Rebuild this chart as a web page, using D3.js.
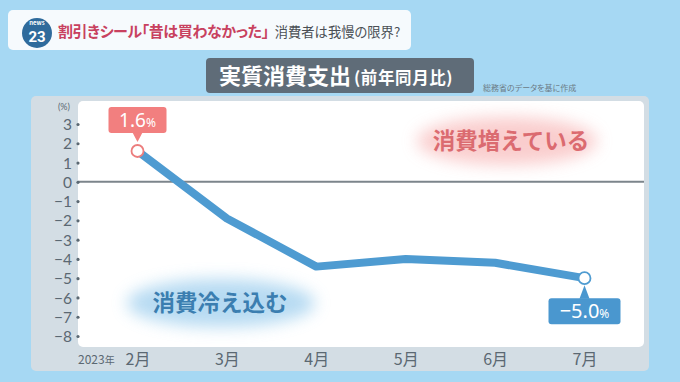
<!DOCTYPE html>
<html><head><meta charset="utf-8">
<script src="https://cdn.jsdelivr.net/npm/d3@7"></script>
<style>
html,body{margin:0;padding:0;background:#a6d8f3;}
svg{display:block;font-family:"Noto Sans CJK JP","Noto Sans",sans-serif;}
.palt{font-feature-settings:"palt";}
</style></head>
<body>
<svg id="c" width="680" height="382"></svg>
<script>
const months = ["2月","3月","4月","5月","6月","7月"];
const values = [1.6, -1.9, -4.4, -4.0, -4.2, -5.0];
const yTicks = [3,2,1,0,-1,-2,-3,-4,-5,-6,-7,-8];
const headline = "割引きシール「昔は買わなかった」";
const subhead = "消費者は我慢の限界?";
const title = "実質消費支出";
const titleSub = "(前年同月比)";
const source = "総務省のデータを基に作成";
const upLabel = "消費増えている";
const downLabel = "消費冷え込む";

const svg = d3.select("#c");
const defs = svg.append("defs");
const blur = defs.append("filter").attr("id","blur").attr("x","-50%").attr("y","-50%").attr("width","200%").attr("height","200%");
blur.append("feGaussianBlur").attr("stdDeviation",8);

// background
svg.append("rect").attr("width",680).attr("height",382).attr("fill","#a6d8f3");

// header
svg.append("rect").attr("x",8).attr("y",10).attr("width",403).attr("height",40).attr("rx",5).attr("fill","#f6fafd");
svg.append("circle").attr("cx",37).attr("cy",33).attr("r",15).attr("fill","#2f6b9c");
svg.append("text").attr("x",37).attr("y",25).attr("text-anchor","middle").attr("font-size",6).attr("font-weight","bold").attr("fill","#fff").text("news");
svg.append("text").attr("x",37).attr("y",42).attr("text-anchor","middle").attr("font-size",15).attr("font-weight","bold").attr("font-family","Roboto,sans-serif").attr("fill","#fff").text("23");
const ht = svg.append("text").attr("class","palt").attr("x",58).attr("y",37);
ht.append("tspan").attr("font-size",15).attr("letter-spacing",-0.4).attr("font-weight","bold").attr("fill","#c8415f").text(headline);
ht.append("tspan").attr("dx",6).attr("font-size",13.3).attr("fill","#4a4f55").text(subhead);

// title box
svg.append("rect").attr("x",206).attr("y",58).attr("width",268).attr("height",35).attr("rx",4).attr("fill","#5f6c78");
const tt = svg.append("text").attr("x",219).attr("y",84).attr("fill","#fff").attr("font-weight","bold");
tt.append("tspan").attr("font-size",22).text(title);
tt.append("tspan").attr("font-size",16.5).attr("letter-spacing",0.6).attr("dx",3).text(titleSub);
svg.append("text").attr("class","palt").attr("x",483).attr("y",91).attr("font-size",8).attr("fill","#6c7b86").text(source);

// panel
svg.append("rect").attr("x",31).attr("y",96).attr("width",618).attr("height",275).attr("rx",5).attr("fill","#d3dde4");
svg.append("rect").attr("x",78).attr("y",101).attr("width",566).attr("height",246).attr("rx",5).attr("fill","#ffffff");

const x = d3.scalePoint().domain(months).range([137.5,584.5]);
const y = d3.scaleLinear().domain([-8,3]).range([336,124]);

// annotation clouds
const up = svg.append("g");
up.append("ellipse").attr("cx",507).attr("cy",141).attr("rx",90).attr("ry",24).attr("fill","#f8b9b9").attr("opacity",0.7).attr("filter","url(#blur)");
up.append("text").attr("x",511).attr("y",149).attr("text-anchor","middle").attr("font-size",22.5).attr("font-weight","bold").attr("fill","#db6b70").text(upLabel);
const dn = svg.append("g");
dn.append("ellipse").attr("cx",221).attr("cy",303).attr("rx",94).attr("ry",24).attr("fill","#a5d2ef").attr("opacity",0.8).attr("filter","url(#blur)");
dn.append("text").attr("x",220).attr("y",311).attr("text-anchor","middle").attr("font-size",22.5).attr("font-weight","bold").attr("fill","#3b7eb0").text(downLabel);

// zero line
svg.append("line").attr("x1",78).attr("x2",644).attr("y1",y(0)).attr("y2",y(0)).attr("stroke","#7c858b").attr("stroke-width",2);

// y axis
const yAxis = d3.axisLeft(y).tickValues(yTicks).tickSize(0).tickPadding(8)
  .tickFormat(d => d < 0 ? "\u2212" + Math.abs(d) : String(d));
const ya = svg.append("g").attr("transform","translate(78,0)").call(yAxis);
ya.select(".domain").remove();
ya.selectAll("text").attr("font-size",15.5).attr("fill","#5b6872").attr("font-family","Lato,'Noto Sans',sans-serif").attr("dy","0.36em").attr("x",-6);
ya.selectAll(".tick").append("circle").attr("r",1.6).attr("fill","#5b6872");
svg.append("text").attr("x",70).attr("y",110).attr("text-anchor","end").attr("font-size",9).attr("fill","#5b6872").attr("font-family","Lato,sans-serif").text("(%)");

// x axis
const xAxis = d3.axisBottom(x).tickSize(0).tickPadding(0);
const xa = svg.append("g").attr("transform","translate(0,365)").call(xAxis);
xa.select(".domain").remove();
xa.selectAll("text").attr("font-size",16).attr("fill","#5b6872").attr("dy",0).attr("font-family","'Noto Sans CJK JP',sans-serif");
svg.append("text").attr("x",78).attr("y",364).attr("font-size",12).attr("fill","#5b6872").attr("font-family","'Noto Sans CJK JP',sans-serif")
  .call(t => { t.append("tspan").text("2023"); t.append("tspan").attr("font-size",10).text("年"); });

// line
const line = d3.line().x((d,i)=>x(months[i])).y(d=>y(d));
svg.append("path").datum(values).attr("d",line).attr("fill","none").attr("stroke","#4e9bd1").attr("stroke-width",8).attr("stroke-linejoin","round");

// end points
const first = 0, last = values.length-1;
svg.append("circle").attr("cx",x(months[first])).attr("cy",y(values[first])).attr("r",6).attr("fill","#fff").attr("stroke","#ec7d7d").attr("stroke-width",1.8);
svg.append("circle").attr("cx",x(months[last])).attr("cy",y(values[last])).attr("r",6).attr("fill","#fff").attr("stroke","#4e9bd1").attr("stroke-width",1.8);

function fmt(v){ return (v<0?"\u2212":"") + Math.abs(v).toFixed(1); }

// label 1.6%
{
  const cx = x(months[first]), cy = y(values[first]);
  const g = svg.append("g");
  g.append("rect").attr("x",cx-29).attr("y",cy-44).attr("width",58).attr("height",26).attr("rx",3).attr("fill","#f27f7f");
  g.append("path").attr("d",`M${cx-5},${cy-18.5}L${cx},${cy-9}L${cx+5},${cy-18.5}Z`).attr("fill","#f27f7f");
  const t = g.append("text").attr("x",cx).attr("y",cy-24).attr("text-anchor","middle").attr("fill","#fff").attr("font-family","'Noto Sans',sans-serif");
  t.append("tspan").attr("font-size",19).text(fmt(values[first]));
  t.append("tspan").attr("font-size",12).text("%");
}
// label -5.0%
{
  const cx = x(months[last]), cy = y(values[last]);
  const g = svg.append("g");
  g.append("rect").attr("x",cx-36).attr("y",cy+20).attr("width",72).attr("height",26).attr("rx",3).attr("fill","#4a97cf");
  g.append("path").attr("d",`M${cx-5},${cy+20.5}L${cx},${cy+7}L${cx+5},${cy+20.5}Z`).attr("fill","#4a97cf");
  const t = g.append("text").attr("x",cx).attr("y",cy+40).attr("text-anchor","middle").attr("fill","#fff").attr("font-family","'Noto Sans',sans-serif");
  t.append("tspan").attr("font-size",20).text(fmt(values[last]));
  t.append("tspan").attr("font-size",12).text("%");
}
</script>
</body></html>
